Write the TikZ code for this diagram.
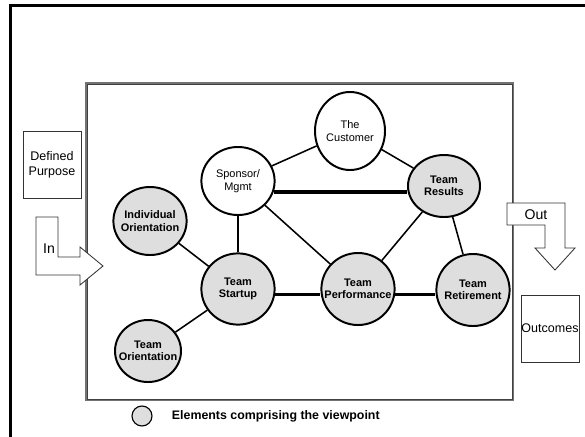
\documentclass[tikz,border=0pt]{standalone}
\usepackage{fontspec}
\setmainfont{Liberation Sans}
\usetikzlibrary{shapes.geometric}
\tikzset{
	elem/.style={ellipse, draw, line width=1.4pt, fill=black!13, inner sep=0pt, label={[align=center, font=\fontsize{7.8}{8.8}\selectfont\bfseries]center:#1}},
	party/.style={ellipse, draw, line width=1.4pt, fill=white, inner sep=0pt, label={[align=center, font=\fontsize{7.8}{9.2}\selectfont]center:#1}},
	link/.style={line width=1.1pt},
	strong/.style={line width=2.4pt},
	sidebox/.style={draw=black!80, line width=0.6pt, fill=white, minimum width=1.45cm, minimum height=1.675cm, inner sep=0pt, align=center, font=\fontsize{8.9}{11}\selectfont},
	flow/.style={draw=black!80, line width=0.6pt, fill=white}
}
\begin{document}
\begin{tikzpicture}[x=0.025cm, y=-0.025cm]
			\useasboundingbox (0,0) rectangle (585,436);
			\clip (0,0) rectangle (585,436);
			\draw[line width=1.5pt] (10.5,440) -- (10.5,5.5) -- (590,5.5);
			\draw[black!55, line width=1.7pt] (86,83) rectangle (513,400);
			\draw[black!75, line width=0.4pt] (87,84) rectangle (512,399);
			\node[party={The\\Customer}, minimum width=1.75cm, minimum height=1.95cm] (cust) at (350,131) {};
			\node[party={Sponsor/\\Mgmt}, minimum width=1.83cm, minimum height=1.7cm] (spon) at (238,181) {};
			\node[elem={Team\\Results}, minimum width=1.8cm, minimum height=1.55cm] (res) at (444,186) {};
			\node[elem={Individual\\Orientation}, minimum width=1.83cm, minimum height=1.7cm] (indiv) at (150,221) {};
			\node[elem={Team\\Startup}, minimum width=1.83cm, minimum height=1.78cm] (start) at (238,289) {};
			\node[elem={Team\\Performance}, minimum width=1.83cm, minimum height=1.8cm] (perf) at (358,289) {};
			\node[elem={Team\\Retirement}, minimum width=1.83cm, minimum height=1.8cm] (retire) at (473,290) {};
			\node[elem={Team\\Orientation}, minimum width=1.65cm, minimum height=1.55cm] (torient) at (148,351) {};
			\draw[link] (cust) -- (spon);
			\draw[link] (cust) -- (res);
			\draw[strong] (spon.-17) -- (spon.-17 -| res.west);
			\draw[link] (spon) -- (start);
			\draw[link] (spon) -- (perf);
			\draw[link] (res) -- (perf);
			\draw[link] (res) -- (retire);
			\draw[link] (indiv) -- (start);
			\draw[link] (start) -- (torient);
			\draw[strong] (start.-8) -- (start.-8 -| perf.west);
			\draw[strong] (perf.-8) -- (perf.-8 -| retire.west);
			\node[sidebox] (purpose) at (52,164.5) {Defined\\Purpose};
			\node[sidebox] (outcomes) at (550,328.5) {Outcomes};
			\draw[flow] (36,217) -- (36,275) -- (80,275) -- (80,285) -- (103,266) -- (80,247) -- (80,257) -- (58,257) -- (58,217) -- cycle;
			\node[font=\fontsize{10}{12}\selectfont] (in) at (49,249) {In};
			\draw[flow] (507,203) -- (565,203) -- (565,248) -- (575,248) -- (555,270) -- (535,248) -- (545,248) -- (545,225) -- (507,225) -- cycle;
			\node[font=\fontsize{10}{12}\selectfont] (out) at (536,215) {Out};
			\node[circle, draw, line width=0.8pt, fill=black!13, minimum size=0.5cm, inner sep=0pt] (key) at (142,416) {};
			\node[anchor=west, font=\fontsize{8.8}{10}\selectfont\bfseries] (keytext) at (167,416) {Elements comprising the viewpoint};
\end{tikzpicture}
\end{document}
